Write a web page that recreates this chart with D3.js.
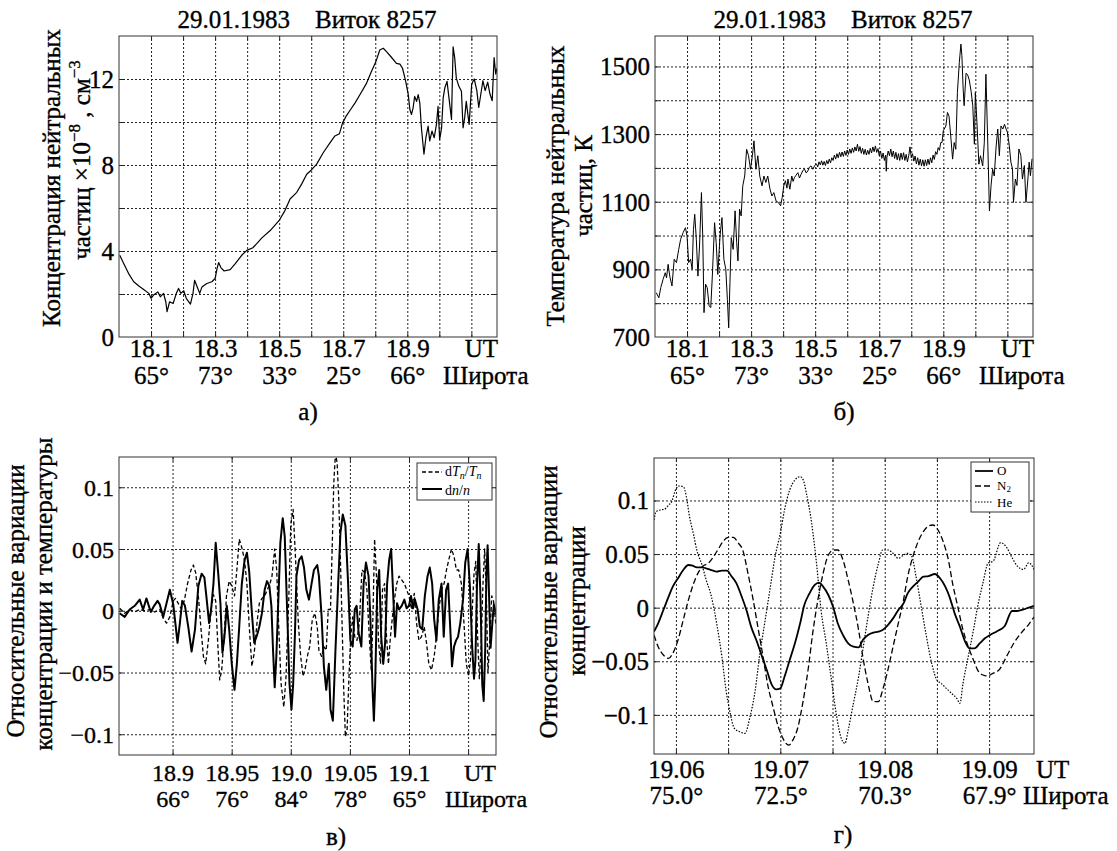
<!DOCTYPE html>
<html><head><meta charset="utf-8">
<script src="https://cdn.jsdelivr.net/npm/d3@7"></script>
<style>
html,body{margin:0;padding:0;background:#fff;}
svg, svg text, svg tspan{font-family:"Liberation Serif","Times New Roman",Times,"DejaVu Serif",serif !important;}
svg text{fill:#000;stroke:#000;stroke-width:0.35px;}
svg text.leg{stroke:none;}
</style></head><body>
<svg id="chart" width="1117" height="851" font-family="Liberation Serif, Times New Roman, serif"></svg>
<script>
// ---------------- DATA ----------------
const titleText = "29.01.1983\u00A0\u00A0\u00A0\u00A0Виток 8257";

// Panel а: concentration
const utA = [18.0024,18.015,18.030,18.046,18.062,18.077,18.093,18.100,18.108,18.121,18.129,18.139,18.146,18.150,18.158,18.169,18.179,18.186,18.193,18.202,18.210,18.223,18.231,18.236,18.243,18.252,18.259,18.274,18.290,18.300,18.306,18.311,18.318,18.328,18.347,18.363,18.383,18.399,18.418,18.430,18.446,18.472,18.500,18.518,18.534,18.555,18.570,18.586,18.598,18.617,18.638,18.659,18.674,18.688,18.698,18.709,18.723,18.737,18.752,18.773,18.788,18.802,18.814,18.825,18.835,18.851,18.866,18.877,18.885,18.895,18.903,18.908,18.913,18.918,18.923,18.929,18.934,18.939,18.944,18.952,18.958,18.965,18.970,18.977,18.984,18.991,18.996,19.001,19.007,19.012,19.017,19.024,19.030,19.038,19.043,19.048,19.053,19.061,19.069,19.074,19.079,19.084,19.093,19.101,19.109,19.117,19.123,19.128,19.136,19.143,19.151,19.158,19.165,19.171,19.176,19.180];
const concA = [3.80,3.41,2.95,2.57,2.37,2.21,2.03,1.80,1.95,2.10,1.87,2.03,1.64,1.18,1.64,1.56,2.03,2.26,2.03,2.15,1.80,1.53,2.03,2.64,2.37,2.03,2.33,2.49,2.57,2.72,3.18,3.46,3.23,3.07,3.13,3.41,3.80,4.03,4.15,4.34,4.61,4.95,5.42,5.88,6.42,6.73,7.11,7.57,7.73,8.04,8.58,9.04,9.35,9.45,9.96,10.27,10.58,10.89,11.27,11.81,12.35,12.81,13.35,13.43,13.27,13.00,12.73,12.69,12.50,11.89,11.27,10.58,10.35,10.65,11.19,10.96,11.27,10.89,9.73,8.50,9.27,9.81,9.12,9.58,9.27,9.89,10.73,9.19,9.73,11.12,11.58,11.89,11.12,10.12,13.50,12.97,12.04,11.66,11.43,9.73,10.19,10.96,9.89,11.77,12.00,11.46,10.68,11.15,11.92,11.46,11.85,11.30,10.99,13.00,12.23,12.50];

// Panel б: temperature
const utB = [18.004,18.012,18.018,18.025,18.032,18.036,18.041,18.046,18.053,18.060,18.067,18.074,18.080,18.088,18.095,18.100,18.105,18.111,18.116,18.120,18.124,18.129,18.134,18.139,18.145,18.149,18.153,18.158,18.163,18.169,18.174,18.179,18.186,18.191,18.196,18.203,18.209,18.215,18.221,18.226,18.230,18.234,18.238,18.244,18.250,18.255,18.259,18.264,18.269,18.274,18.280,18.286,18.292,18.298,18.304,18.309,18.315,18.321,18.327,18.334,18.340,18.346,18.352,18.359,18.365,18.371,18.378,18.386,18.392,18.397,18.402,18.407,18.412,18.415,18.421,18.427,18.431,18.435,18.440,18.446,18.451,18.456,18.462,18.467,18.472,18.477,18.482,18.487,18.493,18.498,
18.504,18.508,18.512,18.516,18.520,18.524,18.528,18.532,18.536,18.540,18.544,18.548,18.552,18.556,18.560,18.564,18.568,18.572,18.576,18.580,18.584,18.588,18.592,18.596,18.600,18.604,18.608,18.612,18.616,18.620,18.624,18.628,18.632,18.636,18.640,18.644,18.648,18.652,18.656,18.660,18.664,18.668,18.672,18.676,18.680,18.684,18.688,18.692,18.696,18.700,18.704,18.708,18.712,18.716,18.720,18.722,18.724,18.728,18.732,18.736,18.740,18.744,18.748,18.752,18.756,18.760,18.764,18.768,18.772,18.776,18.780,18.784,18.788,18.792,18.796,18.800,18.804,18.808,18.812,18.816,18.820,18.824,18.828,18.832,18.836,18.840,18.844,18.848,18.852,18.856,18.860,18.864,18.868,18.872,18.876,18.880,18.884,18.888,18.892,18.896,18.900,
18.903,18.908,18.913,18.918,18.924,18.929,18.934,18.939,18.944,18.950,18.955,18.958,18.962,18.965,18.971,18.976,18.981,18.987,18.992,18.997,19.000,19.005,19.011,19.016,19.023,19.028,19.033,19.039,19.044,19.049,19.054,19.059,19.065,19.070,19.075,19.080,19.086,19.091,19.096,19.100,19.106,19.111,19.116,19.119,19.125,19.130,19.136,19.142,19.147,19.153,19.158,19.164,19.168,19.172,19.177];
const tempB = [831,816,846,870,890,875,915,880,851,930,920,959,989,1009,1023,999,920,930,900,1018,1063,989,880,969,1127,999,772,856,846,792,787,880,1038,979,885,999,1053,930,900,811,727,861,994,959,1073,979,925,1078,1058,1147,1176,1255,1236,1196,1236,1280,1196,1236,1176,1147,1176,1157,1176,1137,1117,1127,1102,1097,1088,1112,1147,1162,1140,1167,1137,1176,1160,1171,1178,1186,1170,1181,1193,1196,1185,1191,1202,1206,1196,1206,
1212,1203,1218,1209,1221,1208,1219,1207,1222,1212,1226,1215,1230,1222,1238,1226,1242,1230,1246,1233,1247,1234,1250,1237,1253,1240,1256,1243,1259,1246,1262,1250,1270,1249,1263,1243,1258,1240,1255,1238,1252,1240,1258,1244,1262,1248,1265,1246,1257,1236,1250,1228,1244,1222,1238,1190,1232,1250,1236,1256,1233,1250,1228,1246,1224,1242,1222,1244,1225,1245,1222,1240,1218,1236,1262,1230,1242,1220,1235,1212,1230,1208,1226,1206,1224,1205,1224,1207,1226,1210,1230,1215,1238,1225,1248,1240,1260,1252,1275,1275,1310,
1315,1324,1364,1352,1285,1226,1275,1255,1423,1512,1566,1532,1433,1384,1480,1475,1460,1425,1384,1270,1423,1334,1211,1236,1206,1275,1477,1265,1073,1147,1196,1176,1265,1315,1236,1324,1315,1329,1315,1306,1266,1217,1197,1098,1167,1148,1256,1237,1167,1207,1098,1167,1217,1177,1227];

// Panel в: relative variations dT/T (dashed) and dn/n (solid)
const utT = [18.8552,18.8595,18.8637,18.8680,18.8722,18.8765,18.8807,18.8850,18.8892,18.8921,18.8949,18.8977,18.9006,18.9025,18.9048,18.9071,18.9099,18.9127,18.9156,18.9176,18.9195,18.9218,18.9241,18.9261,18.9280,18.9303,18.9326,18.9346,18.9365,18.9382,18.9399,18.9416,18.9436,18.9456,18.9479,18.9501,18.9524,18.9544,18.9564,18.9586,18.9609,18.9629,18.9649,18.9671,18.9691,18.9714,18.9734,18.9756,18.9779,18.9802,18.9824,18.9841,18.9864,18.9881,18.9898,18.9918,18.9941,18.9960,18.9983,19.0000,19.0020,19.0042,19.0064,19.0084,19.0104,19.0120,19.0140,19.0160,19.0182,19.0204,19.0224,19.0238,19.0261,19.0280,19.0300,19.0317,19.0336,19.0350,19.0364,19.0378,19.0392,19.0406,19.0420,19.0434,19.0448,19.0462,19.0476,19.0490,19.0507,19.0524,19.0541,19.0560,19.0580,19.0602,19.0625,19.0644,19.0664,19.0681,19.0695,19.0709,19.0725,19.0742,19.0759,19.0776,19.0793,19.0810,19.0826,19.0843,19.0860,19.0877,19.0896,19.0916,19.0938,19.0961,19.0980,19.1000,19.1022,19.1045,19.1064,19.1084,19.1106,19.1129,19.1148,19.1168,19.1190,19.1213,19.1232,19.1252,19.1275,19.1297,19.1317,19.1336,19.1359,19.1381,19.1401,19.1420,19.1443,19.1465,19.1485,19.1504,19.1520,19.1535,19.1550,19.1565,19.1580,19.1595,19.1610,19.1625,19.1640,19.1655,19.1668,19.1685,19.1700,19.1715,19.1736];
const dTT = [0.002,-0.002,0.001,-0.001,0.001,0.000,0.001,-0.001,0.001,-0.006,-0.010,-0.005,0.008,0.010,0.006,0.002,0.008,0.022,0.033,0.037,0.031,0.012,-0.015,-0.037,-0.043,-0.024,0.001,0.013,0.008,-0.026,-0.056,-0.048,-0.021,0.012,0.024,0.020,0.012,0.033,0.058,0.051,0.041,0.022,-0.013,-0.045,-0.034,-0.010,0.006,0.010,0.012,0.017,0.022,0.028,0.050,0.033,-0.013,-0.059,-0.078,-0.053,0.009,0.070,0.082,0.039,-0.010,-0.037,-0.053,-0.048,-0.037,-0.029,-0.007,-0.002,-0.013,-0.032,-0.037,-0.029,-0.032,0.001,0.001,0.050,0.104,0.127,0.120,0.090,0.041,-0.010,-0.064,-0.102,-0.097,-0.059,-0.021,-0.005,-0.021,-0.024,-0.010,0.033,0.031,0.017,-0.021,-0.048,-0.005,0.058,0.028,-0.024,-0.043,0.017,0.022,-0.021,-0.043,-0.021,-0.005,0.009,0.022,0.028,0.025,0.022,0.017,0.012,0.001,0.014,-0.010,-0.024,-0.021,-0.013,-0.026,-0.043,-0.048,-0.037,-0.021,0.001,0.017,0.022,0.033,0.041,0.050,0.044,0.033,0.033,0.022,-0.010,-0.043,-0.053,-0.040,0.000,0.030,0.040,-0.020,-0.055,-0.030,0.020,0.050,0.010,-0.050,-0.020,0.012,0.008,-0.012];
const utN = [18.8552,18.8595,18.8637,18.8680,18.8722,18.8751,18.8779,18.8816,18.8844,18.8873,18.8892,18.8921,18.8949,18.8977,18.9006,18.9025,18.9042,18.9062,18.9082,18.9105,18.9133,18.9161,18.9190,18.9218,18.9246,18.9269,18.9289,18.9309,18.9326,18.9346,18.9365,18.9388,18.9405,18.9422,18.9439,18.9459,18.9479,18.9501,18.9524,18.9544,18.9564,18.9586,18.9609,18.9629,18.9649,18.9671,18.9691,18.9714,18.9734,18.9756,18.9779,18.9799,18.9819,18.9836,18.9850,18.9864,18.9878,18.9892,18.9912,18.9932,18.9949,18.9969,18.9989,19.0006,19.0020,19.0035,19.0048,19.0070,19.0092,19.0112,19.0132,19.0154,19.0176,19.0196,19.0224,19.0238,19.0261,19.0280,19.0300,19.0322,19.0336,19.0356,19.0378,19.0401,19.0420,19.0440,19.0462,19.0485,19.0504,19.0524,19.0541,19.0557,19.0574,19.0597,19.0616,19.0636,19.0658,19.0675,19.0692,19.0703,19.0714,19.0731,19.0748,19.0765,19.0782,19.0798,19.0815,19.0832,19.0849,19.0866,19.0882,19.0899,19.0916,19.0938,19.0961,19.0980,19.1000,19.1017,19.1034,19.1050,19.1073,19.1092,19.1112,19.1134,19.1157,19.1176,19.1196,19.1213,19.1232,19.1252,19.1275,19.1294,19.1314,19.1331,19.1347,19.1364,19.1381,19.1398,19.1415,19.1434,19.1457,19.1476,19.1496,19.1515,19.1535,19.1550,19.1562,19.1575,19.1590,19.1605,19.1620,19.1632,19.1645,19.1655,19.1665,19.1678,19.1690,19.1705,19.1718,19.1736];
const dnN = [-0.002,-0.005,0.001,0.004,0.009,0.001,0.010,-0.001,0.004,0.008,0.005,-0.005,0.006,0.017,0.005,-0.011,-0.026,-0.010,0.008,0.004,-0.013,-0.033,-0.015,0.020,0.030,0.027,0.009,-0.010,0.001,0.022,0.055,0.028,0.006,-0.034,-0.021,0.004,-0.015,-0.043,-0.064,-0.043,-0.013,0.022,0.041,0.047,0.031,-0.002,-0.026,-0.020,-0.013,-0.002,0.017,0.024,0.020,0.004,-0.032,-0.062,-0.037,0.001,0.055,0.075,0.060,0.001,-0.059,-0.080,-0.060,-0.020,0.028,0.041,0.044,0.035,0.017,0.009,0.022,0.033,0.037,0.028,-0.005,-0.045,-0.064,-0.043,-0.080,-0.089,-0.032,0.022,0.063,0.078,0.069,0.022,-0.024,-0.029,0.001,0.004,-0.018,-0.029,0.022,0.039,0.028,-0.010,-0.064,-0.089,-0.059,0.017,0.033,-0.021,-0.043,-0.026,0.022,0.041,0.050,0.014,-0.021,0.006,0.001,0.004,0.009,0.002,0.004,0.012,0.002,0.009,0.001,-0.013,-0.015,0.012,0.028,0.035,0.022,-0.007,-0.024,0.009,0.022,-0.021,0.017,0.022,-0.010,-0.045,-0.029,-0.024,-0.021,-0.010,0.009,0.039,0.050,0.020,-0.030,-0.055,-0.040,0.020,0.054,0.010,-0.060,-0.073,-0.030,0.030,0.053,0.010,-0.030,-0.010,0.005,-0.003];

// Panel г: O (solid), N2 (dashed), He (dotted)
const utO = [19.0579,19.0583,19.0588,19.0593,19.0597,19.0602,19.0607,19.0612,19.0616,19.0620,19.0625,19.0629,19.0634,19.0639,19.0644,19.0649,19.0653,19.0658,19.0663,19.0668,19.0672,19.0677,19.0682,19.0687,19.0692,19.0696,19.0700,19.0704,19.0709,19.0714,19.0719,19.0723,19.0728,19.0733,19.0737,19.0741,19.0746,19.0751,19.0755,19.0760,19.0765,19.0770,19.0775,19.0779,19.0784,19.0789,19.0794,19.0798,19.0803,19.0808,19.0813,19.0818,19.0822,19.0827,19.0832,19.0837,19.0842,19.0848,19.0853,19.0858,19.0862,19.0867,19.0872,19.0877,19.0881,19.0886,19.0891,19.0896,19.0901,19.0908,19.0915,19.0922,19.0927,19.0933,19.0938,19.0943];
const relO = [-0.0224,-0.0146,-0.0022,0.0103,0.0196,0.0274,0.0351,0.0398,0.0392,0.0376,0.0376,0.0367,0.0351,0.0336,0.0345,0.0345,0.0295,0.0227,0.0103,-0.0037,-0.0177,-0.0302,-0.0442,-0.0582,-0.0722,-0.0762,-0.0753,-0.0644,-0.0488,-0.0333,-0.0146,0.0025,0.0134,0.0212,0.0233,0.0196,0.0118,-0.0006,-0.0146,-0.0255,-0.0333,-0.0364,-0.0370,-0.0302,-0.0255,-0.0233,-0.0224,-0.0208,-0.0162,-0.0100,-0.0022,0.0040,0.0134,0.0196,0.0243,0.0289,0.0295,0.0314,0.0274,0.0196,0.0103,-0.0053,-0.0177,-0.0317,-0.0379,-0.0379,-0.0333,-0.0286,-0.0255,-0.0217,-0.0171,-0.0031,-0.0031,-0.0016,0.0000,0.0016];
const utN2 = [19.0579,19.0583,19.0588,19.0593,19.0597,19.0602,19.0607,19.0612,19.0617,19.0621,19.0626,19.0631,19.0636,19.0641,19.0645,19.0650,19.0655,19.0660,19.0664,19.0669,19.0674,19.0679,19.0684,19.0688,19.0693,19.0698,19.0703,19.0708,19.0712,19.0717,19.0722,19.0727,19.0731,19.0736,19.0741,19.0746,19.0751,19.0755,19.0760,19.0765,19.0770,19.0775,19.0779,19.0784,19.0789,19.0794,19.0798,19.0803,19.0808,19.0813,19.0818,19.0822,19.0827,19.0832,19.0837,19.0842,19.0846,19.0851,19.0856,19.0861,19.0865,19.0870,19.0875,19.0880,19.0885,19.0889,19.0894,19.0899,19.0902,19.0910,19.0917,19.0924,19.0931,19.0938,19.0943];
const relN2 = [-0.0255,-0.0364,-0.0442,-0.0473,-0.0426,-0.0302,-0.0115,0.0072,0.0227,0.0320,0.0389,0.0414,0.0476,0.0554,0.0616,0.0656,0.0656,0.0600,0.0538,0.0320,0.0072,-0.0208,-0.0488,-0.0722,-0.0924,-0.1110,-0.1229,-0.1282,-0.1235,-0.1110,-0.0862,-0.0551,-0.0240,0.0072,0.0320,0.0491,0.0538,0.0538,0.0445,0.0258,0.0040,-0.0208,-0.0457,-0.0706,-0.0877,-0.0877,-0.0768,-0.0582,-0.0364,-0.0146,0.0072,0.0289,0.0476,0.0616,0.0709,0.0762,0.0771,0.0725,0.0616,0.0445,0.0227,0.0009,-0.0208,-0.0364,-0.0488,-0.0582,-0.0628,-0.0638,-0.0621,-0.0575,-0.0450,-0.0326,-0.0233,-0.0155,-0.0087];
const utHe = [19.0579,19.0581,19.0585,19.0589,19.0593,19.0596,19.0599,19.0603,19.0607,19.0610,19.0613,19.0617,19.0620,19.0625,19.0629,19.0634,19.0639,19.0644,19.0648,19.0652,19.0656,19.0661,19.0666,19.0671,19.0676,19.0680,19.0685,19.0690,19.0695,19.0700,19.0704,19.0709,19.0714,19.0719,19.0722,19.0725,19.0730,19.0735,19.0739,19.0744,19.0749,19.0754,19.0759,19.0762,19.0765,19.0770,19.0775,19.0779,19.0784,19.0789,19.0794,19.0798,19.0803,19.0808,19.0813,19.0818,19.0822,19.0826,19.0830,19.0835,19.0840,19.0845,19.0850,19.0854,19.0859,19.0864,19.0869,19.0872,19.0875,19.0880,19.0885,19.0889,19.0894,19.0899,19.0904,19.0911,19.0917,19.0922,19.0927,19.0933,19.0938,19.0943];
const relHe = [0.0818,0.0896,0.0911,0.0918,0.0958,0.0989,0.1082,0.1135,0.1129,0.1036,0.0849,0.0678,0.0538,0.0398,0.0258,0.0103,-0.0146,-0.0457,-0.0768,-0.0986,-0.1126,-0.1157,-0.1173,-0.1017,-0.0768,-0.0457,-0.0146,0.0165,0.0476,0.0694,0.0911,0.1098,0.1191,0.1222,0.1191,0.1067,0.0787,0.0383,-0.0022,-0.0333,-0.0675,-0.1017,-0.1235,-0.1266,-0.1142,-0.0893,-0.0644,-0.0395,-0.0084,0.0196,0.0414,0.0538,0.0538,0.0507,0.0460,0.0491,0.0507,0.0476,0.0289,0.0009,-0.0271,-0.0519,-0.0675,-0.0706,-0.0753,-0.0799,-0.0846,-0.0893,-0.0706,-0.0457,-0.0208,0.0009,0.0227,0.0414,0.0435,0.0606,0.0559,0.0466,0.0388,0.0357,0.0419,0.0357];

// Tick values and labels
const gridUT1 = [18.1,18.2,18.3,18.4,18.5,18.6,18.7,18.8,18.9,19.0,19.1];
const ticksUT1 = [18.1,18.3,18.5,18.7,18.9];
const labelsUT1 = ["18.1","18.3","18.5","18.7","18.9"];
const latAB = ["65°","73°","33°","25°","66°"];
const gridConc = [2,4,6,8,10,12];
const ticksConc = [0,4,8,12];
const gridTemp = [800,900,1000,1100,1200,1300,1400,1500];
const ticksTemp = [700,900,1100,1300,1500];
const gridUT2 = [18.9,18.95,19.0,19.05,19.1,19.15];
const ticksUT2 = [18.9,18.95,19.0,19.05,19.1];
const labelsUT2 = ["18.9","18.95","19.0","19.05","19.1"];
const latC = ["66°","76°","84°","78°","65°"];
const gridRel = [-0.1,-0.05,0,0.05,0.1];
const labelsRel = ["\u22120.1","\u22120.05","0","0.05","0.1"];
const gridUT3 = [19.06,19.065,19.07,19.075,19.08,19.085,19.09];
const ticksUT3 = [19.06,19.07,19.08,19.09];
const labelsUT3 = ["19.06","19.07","19.08","19.09"];
const latD = ["75.0°","72.5°","70.3°","67.9°"];

// ---------------- DRAWING ----------------
const FONT = "Liberation Serif, Times New Roman, serif";
const svg = d3.select("#chart");
const defs = svg.append("defs");
let clipId = 0;

function drawPanel(p){
  const x = d3.scaleLinear().domain(p.xDomain).range([p.x0, p.x1]);
  const y = d3.scaleLinear().domain(p.yDomain).range([p.y1, p.y0]);
  const g = svg.append("g");
  const w = p.x1 - p.x0, h = p.y1 - p.y0;

  // grid
  const gxg = g.append("g").attr("transform", `translate(0,${p.y1})`)
    .call(d3.axisBottom(x).tickValues(p.xGrid).tickSize(-h).tickFormat(""));
  const gyg = g.append("g").attr("transform", `translate(${p.x0},0)`)
    .call(d3.axisLeft(y).tickValues(p.yGrid).tickSize(-w).tickFormat(""));
  [gxg, gyg].forEach(a => {
    a.select(".domain").remove();
    a.selectAll("text").remove();
    a.selectAll("line").attr("stroke", "#222").attr("stroke-width", 1).attr("stroke-dasharray", "2,2");
  });

  // curves
  const id = "clip" + (clipId++);
  defs.append("clipPath").attr("id", id).append("rect")
    .attr("x", p.x0).attr("y", p.y0).attr("width", w).attr("height", h);
  const cg = g.append("g").attr("clip-path", `url(#${id})`);
  p.series.forEach(s => {
    const line = d3.line().x(d => x(d[0])).y(d => y(d[1])).curve(s.curve || d3.curveLinear);
    cg.append("path").datum(d3.zip(s.x, s.y))
      .attr("d", line).attr("fill", "none").attr("stroke", s.color || "#000")
      .attr("stroke-width", s.width).attr("stroke-dasharray", s.dash || null)
      .attr("stroke-linejoin", "round");
  });

  // inner ticks on all four sides
  const tb = g.append("g").attr("transform", `translate(0,${p.y1})`).call(d3.axisBottom(x).tickValues(p.xGrid).tickSize(-4).tickFormat(""));
  const tt = g.append("g").attr("transform", `translate(0,${p.y0})`).call(d3.axisTop(x).tickValues(p.xGrid).tickSize(-4).tickFormat(""));
  const tl = g.append("g").attr("transform", `translate(${p.x0},0)`).call(d3.axisLeft(y).tickValues(p.yGrid).tickSize(-4).tickFormat(""));
  const tr = g.append("g").attr("transform", `translate(${p.x1},0)`).call(d3.axisRight(y).tickValues(p.yGrid).tickSize(-4).tickFormat(""));
  [tb, tt, tl, tr].forEach(a => { a.select(".domain").remove(); a.selectAll("text").remove(); a.selectAll("line").attr("stroke", "#222"); });

  // frame
  g.append("rect").attr("x", p.x0).attr("y", p.y0).attr("width", w).attr("height", h)
    .attr("fill", "none").attr("stroke", "#333").attr("stroke-width", 1);

  // x tick labels: one text per tick, UT row + latitude row
  const mUT = new Map(p.xTicks.map((t, i) => [t, p.xLabels[i]]));
  const mLat = new Map(p.xTicks.map((t, i) => [t, p.latLabels[i]]));
  const ax = g.append("g").call(d3.axisBottom(x).tickValues(p.xTicks).tickSize(0).tickFormat(""));
  ax.select(".domain").remove();
  ax.attr("font-family", FONT).attr("font-size", p.fs);
  ax.selectAll("text").attr("y", null).attr("dy", null).attr("fill", "#000").each(function(d){
    const t = d3.select(this);
    t.append("tspan").attr("x", 0).attr("y", p.row1).text(mUT.get(d));
    t.append("tspan").attr("x", 0).attr("y", p.row2).text(mLat.get(d));
  });

  // y tick labels
  const mY = new Map(p.yTicks.map((t, i) => [t, p.yLabels[i]]));
  const ay = g.append("g").attr("transform", `translate(${p.x0 - 5},0)`)
    .call(d3.axisLeft(y).tickValues(p.yTicks).tickSize(0).tickPadding(0).tickFormat(d => mY.get(d)));
  ay.select(".domain").remove();
  ay.attr("font-family", FONT).attr("font-size", p.fs);
  ay.selectAll("text").attr("fill", "#000").attr("dy", "0.34em");

  // UT / Широта as one text
  const u = svg.append("text").attr("font-size", p.fs).attr("font-family", FONT);
  u.append("tspan").attr("x", p.utX).attr("y", p.row1).attr("text-anchor", p.utAnchor).text("UT");
  u.append("tspan").attr("x", p.latX).attr("y", p.row2).attr("text-anchor", "start").text("Широта");
  return {x, y, g};
}

function addText(x, y, txt, size, anchor){
  return svg.append("text").attr("x", x).attr("y", y).attr("font-size", size).attr("font-family", FONT)
    .attr("text-anchor", anchor || "start").text(txt);
}
function addRotated(x, y, size){
  return svg.append("text").attr("transform", `translate(${x},${y}) rotate(-90)`).attr("font-family", FONT)
    .attr("font-size", size).attr("text-anchor", "middle");
}

// Panel а
drawPanel({x0:119, x1:497, y0:36, y1:337, xDomain:[18.0, 19.18], yDomain:[0, 14],
  xGrid:gridUT1, yGrid:gridConc, xTicks:ticksUT1, xLabels:labelsUT1, latLabels:latAB,
  yTicks:ticksConc, yLabels:ticksConc.map(String), fs:25, row1:357, row2:384,
  utX:498, utAnchor:"end", latX:443,
  series:[{x:utA, y:concA, width:1.2}]});
addText(307, 28, titleText, 25, "middle");
addRotated(60, 178, 25).text("Концентрация нейтральных");
{
  const t = addRotated(90, 160, 25);
  t.append("tspan").text("частиц ×10");
  t.append("tspan").attr("font-size", 17).attr("dy", -10).text("\u22128");
  t.append("tspan").attr("dy", 10).text(" , см");
  t.append("tspan").attr("font-size", 17).attr("dy", -10).text("\u22123");
}
addText(308, 420, "а)", 25, "middle");

// Panel б
drawPanel({x0:655, x1:1033, y0:36, y1:337, xDomain:[18.0, 19.18], yDomain:[700, 1590],
  xGrid:gridUT1, yGrid:gridTemp, xTicks:ticksUT1, xLabels:labelsUT1, latLabels:latAB,
  yTicks:ticksTemp, yLabels:ticksTemp.map(String), fs:25, row1:357, row2:384,
  utX:1034, utAnchor:"end", latX:979,
  series:[{x:utB, y:tempB, width:1.0}]});
addText(843, 28, titleText, 25, "middle");
addRotated(564, 186, 25).text("Температура нейтральных");
addRotated(592, 186, 25).text("частиц, К");
addText(844, 420, "б)", 25, "middle");

// Panel в
drawPanel({x0:119, x1:496, y0:457, y1:755, xDomain:[18.8547, 19.1736], yDomain:[-0.1168, 0.1245],
  xGrid:gridUT2, yGrid:gridRel, xTicks:ticksUT2, xLabels:labelsUT2, latLabels:latC,
  yTicks:gridRel, yLabels:labelsRel, fs:24, row1:781, row2:807,
  utX:496, utAnchor:"end", latX:445,
  series:[{x:utT, y:dTT, width:1.3, dash:"4,2.5"}, {x:utN, y:dnN, width:2.0}]});
addRotated(24, 601, 25).text("Относительные вариации");
addRotated(52, 594, 25).text("концентрации и температуры");
addText(336, 845, "в)", 25, "middle");
{
  const lg = svg.append("g");
  lg.append("rect").attr("x", 417).attr("y", 463).attr("width", 75).attr("height", 37)
    .attr("fill", "#fff").attr("stroke", "#333");
  lg.append("line").attr("x1", 422).attr("x2", 442).attr("y1", 472).attr("y2", 472)
    .attr("stroke", "#000").attr("stroke-width", 1.3).attr("stroke-dasharray", "4,2.5");
  lg.append("line").attr("x1", 422).attr("x2", 442).attr("y1", 489).attr("y2", 489)
    .attr("stroke", "#000").attr("stroke-width", 2);
  const t1 = lg.append("text").attr("class", "leg").attr("x", 445).attr("y", 476).attr("font-size", 14).attr("font-family", FONT);
  t1.append("tspan").text("d");
  t1.append("tspan").attr("font-style", "italic").text("T");
  t1.append("tspan").attr("font-style", "italic").attr("font-size", 10).attr("dy", 3).text("n");
  t1.append("tspan").attr("dy", -3).text("/");
  t1.append("tspan").attr("font-style", "italic").text("T");
  t1.append("tspan").attr("font-style", "italic").attr("font-size", 10).attr("dy", 3).text("n");
  const t2 = lg.append("text").attr("class", "leg").attr("x", 445).attr("y", 495).attr("font-size", 14).attr("font-family", FONT);
  t2.append("tspan").text("d");
  t2.append("tspan").attr("font-style", "italic").text("n");
  t2.append("tspan").text("/");
  t2.append("tspan").attr("font-style", "italic").text("n");
}

// Panel г
drawPanel({x0:654, x1:1034, y0:458, y1:754, xDomain:[19.0579, 19.0943], yDomain:[-0.1365, 0.1396],
  xGrid:gridUT3, yGrid:gridRel, xTicks:ticksUT3, xLabels:labelsUT3, latLabels:latD,
  yTicks:gridRel, yLabels:labelsRel, fs:25, row1:778, row2:804,
  utX:1036, utAnchor:"start", latX:1023,
  series:[{x:utHe, y:relHe, width:1.2, dash:"1.5,1.5", curve:d3.curveMonotoneX},
          {x:utN2, y:relN2, width:1.3, dash:"6,3", curve:d3.curveMonotoneX},
          {x:utO, y:relO, width:1.8, curve:d3.curveMonotoneX}]});
addRotated(557, 602, 25).text("Относительные вариации");
addRotated(585, 601, 25).text("концентрации");
addText(843, 843, "г)", 25, "middle");
{
  const lg = svg.append("g");
  lg.append("rect").attr("x", 971).attr("y", 462).attr("width", 58).attr("height", 50)
    .attr("fill", "#fff").attr("stroke", "#333");
  const rows = [["O", null, 1.8, 471, 475], ["N", "6,3", 1.3, 486, 490], ["He", "1.5,1.5", 1.2, 502, 507]];
  rows.forEach(([lab, dash, sw, yy, base]) => {
    lg.append("line").attr("x1", 975).attr("x2", 993).attr("y1", yy).attr("y2", yy)
      .attr("stroke", "#000").attr("stroke-width", sw).attr("stroke-dasharray", dash);
    const t = lg.append("text").attr("class", "leg").attr("x", 997).attr("y", base).attr("font-size", 13).attr("font-family", FONT).text(lab);
    if (lab === "N") t.append("tspan").attr("font-size", 9).attr("dy", 2).text("2");
  });
}
</script>
</body></html>
